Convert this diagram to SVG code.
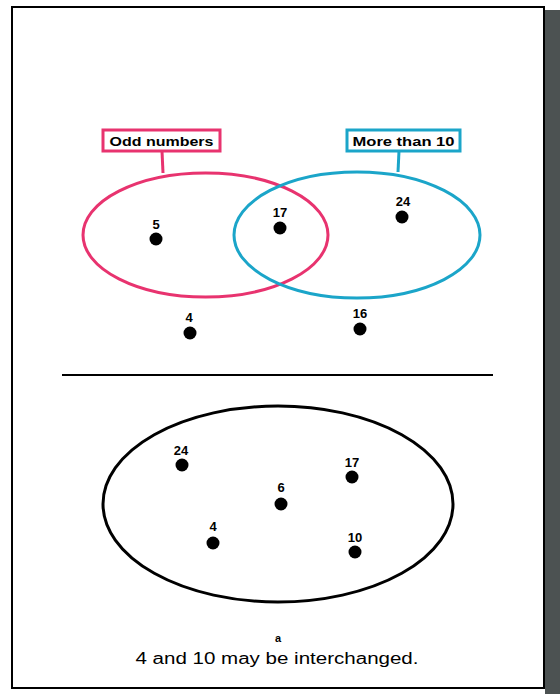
<svg xmlns="http://www.w3.org/2000/svg" width="560" height="694" viewBox="0 0 560 694">
<style>
.num{font-family:"Liberation Sans",Arial,sans-serif;font-size:13px;font-weight:bold;fill:#000;text-anchor:middle}
.lbl{font-family:"Liberation Sans",Arial,sans-serif;font-size:13px;font-weight:bold;fill:#000;text-anchor:middle}
.dot{fill:#000}
.pink{fill:none;stroke:#e8336f;stroke-width:3}
.cyan{fill:none;stroke:#1ba5c9;stroke-width:3}
</style>
<rect x="545" y="10" width="15" height="684" fill="#4c5252"/>
<rect x="12" y="7" width="532" height="681" fill="#fff" stroke="#000" stroke-width="2"/>
<g id="connectors">
<line x1="162" y1="151" x2="163" y2="173" class="pink"/>
<line x1="399" y1="151" x2="398" y2="172" class="cyan"/>
<line x1="62" y1="375" x2="493" y2="375" stroke="#000" stroke-width="2"/>
</g>
<g id="set-odd">
<ellipse cx="205.5" cy="235" rx="122.5" ry="62" class="pink"/>
<rect x="103" y="130" width="117" height="21" fill="#fff" class="pink"/>
<text x="161.5" y="145.5" class="lbl" textLength="104" lengthAdjust="spacingAndGlyphs">Odd numbers</text>
</g>
<g id="set-more">
<ellipse cx="357" cy="235" rx="123" ry="63" class="cyan"/>
<rect x="347" y="130" width="113" height="21" fill="#fff" class="cyan"/>
<text x="403.5" y="145.5" class="lbl" textLength="102" lengthAdjust="spacingAndGlyphs">More than 10</text>
</g>
<g id="n5"><circle cx="156" cy="239" r="6.5" class="dot"/><text x="156" y="229" class="num">5</text></g>
<g id="n17"><circle cx="280" cy="228" r="6.5" class="dot"/><text x="280" y="217" class="num">17</text></g>
<g id="n24"><circle cx="402" cy="217" r="6.5" class="dot"/><text x="403" y="206" class="num">24</text></g>
<g id="n4"><circle cx="190" cy="333" r="6.5" class="dot"/><text x="189" y="322" class="num">4</text></g>
<g id="n16"><circle cx="360" cy="329" r="6.5" class="dot"/><text x="360" y="318" class="num">16</text></g>
<g id="set-all">
<ellipse cx="278" cy="504" rx="175" ry="98" fill="none" stroke="#000" stroke-width="3"/>
</g>
<g id="b24"><circle cx="182" cy="465" r="6.5" class="dot"/><text x="181" y="455" class="num">24</text></g>
<g id="b6"><circle cx="281" cy="504" r="6.5" class="dot"/><text x="281" y="492" class="num">6</text></g>
<g id="b17"><circle cx="352" cy="477" r="6.5" class="dot"/><text x="352" y="467" class="num">17</text></g>
<g id="b4"><circle cx="213" cy="543" r="6.5" class="dot"/><text x="213" y="531" class="num">4</text></g>
<g id="b10"><circle cx="355" cy="552" r="6.5" class="dot"/><text x="355" y="542" class="num">10</text></g>
<g id="caption">
<text x="278" y="642" font-family="Liberation Sans,Arial,sans-serif" font-size="11" font-weight="bold" text-anchor="middle">a</text>
<text x="277" y="664" font-family="Liberation Sans,Arial,sans-serif" font-size="16" text-anchor="middle" textLength="283" lengthAdjust="spacingAndGlyphs">4 and 10 may be interchanged.</text>
</g>
</svg>
